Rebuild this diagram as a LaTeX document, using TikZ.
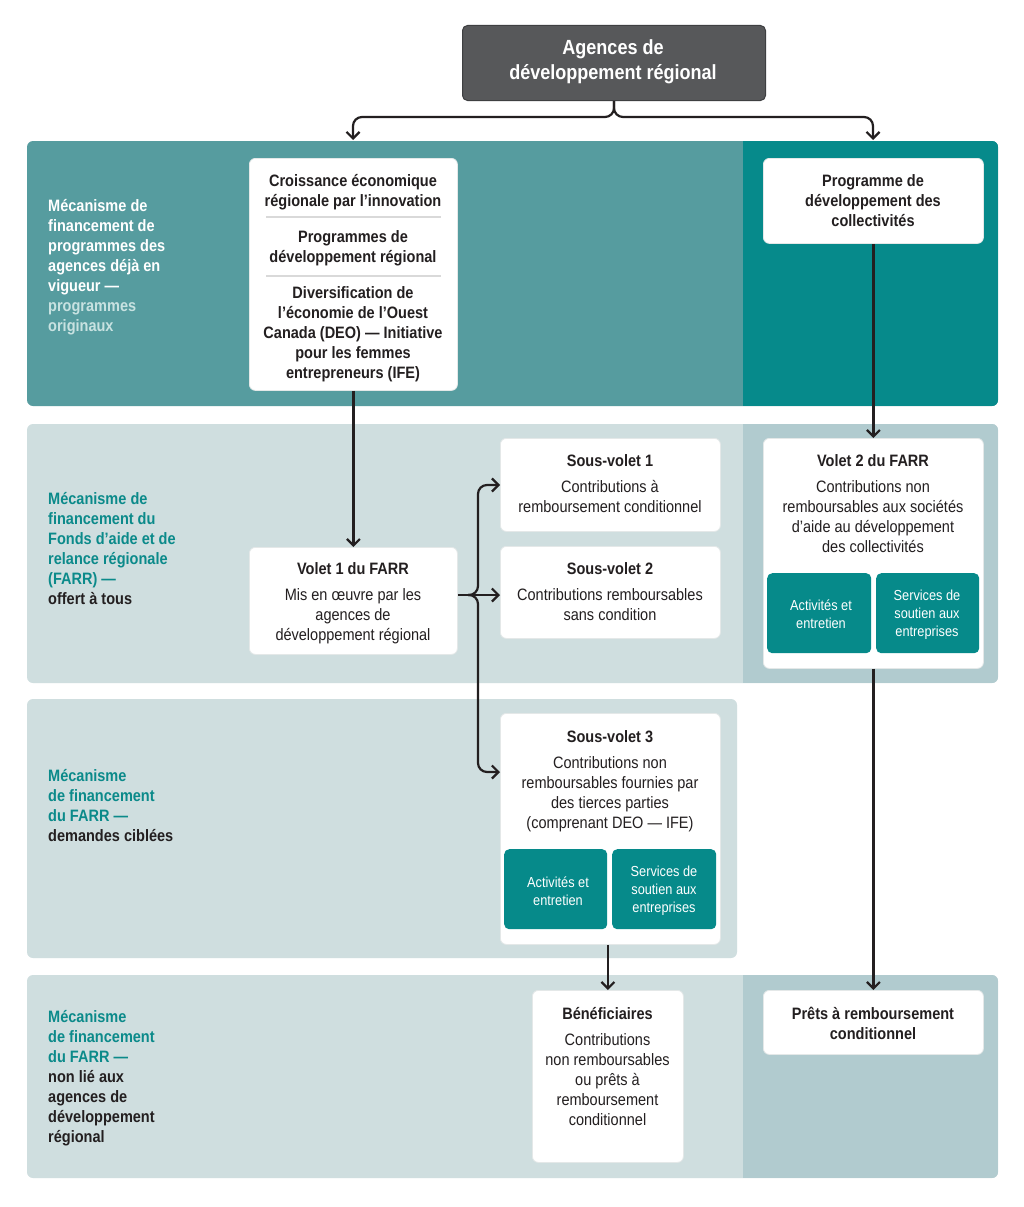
\documentclass[tikz,border=0pt]{standalone}
\usepackage{fontspec}
\setmainfont{Liberation Sans}[FakeStretch=0.88]
\usetikzlibrary{arrows.meta,calc}
\definecolor{titlefill}{HTML}{57585A}
\definecolor{titleedge}{HTML}{3E3F41}
\definecolor{bandA}{HTML}{569C9F}
\definecolor{bandB}{HTML}{068A8B}
\definecolor{bandL}{HTML}{CFDEDF}
\definecolor{bandR}{HTML}{B1CBCF}
\definecolor{tealtext}{HTML}{0B8A8A}
\definecolor{teal box}{HTML}{068A8A}
\definecolor{darktext}{HTML}{231F20}
\definecolor{paletext}{HTML}{C8E2E1}
\definecolor{sepline}{HTML}{D9D9D9}
\definecolor{boxedge}{HTML}{E4E8E8}
\newcommand{\ctab}[1]{\begin{tabular}[t]{@{}c@{}}#1\end{tabular}}
\newcommand{\ltab}[1]{\begin{tabular}[t]{@{}l@{}}#1\end{tabular}}
\begin{document}
\begin{tikzpicture}[x=1pt,y=-1pt,
  wbox/.style={draw=boxedge, line width=0.8pt, fill=white, rounded corners=6pt, inner sep=0pt, anchor=north west},
  tbox/.style={fill=teal box, rounded corners=5pt, inner sep=0pt, anchor=north west},
  txt/.style={inner sep=0pt, anchor=base, text=darktext, font=\fontsize{16.5}{20}\selectfont},
  smalltxt/.style={inner sep=0pt, anchor=base, text=white, font=\fontsize{14.5}{18}\selectfont},
  lefttxt/.style={inner sep=0pt, anchor=base west, font=\bfseries\fontsize{16.5}{20}\selectfont},
  arr/.style={draw=darktext, line width=2.2pt, -{Straight Barb[length=6.5pt,width=13pt]}},
  plain/.style={draw=darktext, line width=2.2pt}
]
\useasboundingbox (0,0) rectangle (1024,1207);
\fill[white] (0,0) rectangle (1024,1207);

% ---------- bands ----------
\fill[bandA, rounded corners=6pt] (27,141) rectangle (998,406);
\begin{scope}
  \clip[rounded corners=6pt] (27,141) rectangle (998,406);
  \fill[bandB] (743,141) rectangle (998,406);
\end{scope}
\fill[bandL, rounded corners=6pt] (27,424) rectangle (998,683);
\begin{scope}
  \clip[rounded corners=6pt] (27,424) rectangle (998,683);
  \fill[bandR] (743,424) rectangle (998,683);
\end{scope}
\fill[bandL, rounded corners=6pt] (27,699) rectangle (737,958);
\fill[bandL, rounded corners=6pt] (27,975) rectangle (998,1178);
\begin{scope}
  \clip[rounded corners=6pt] (27,975) rectangle (998,1178);
  \fill[bandR] (743,975) rectangle (998,1178);
\end{scope}

% ---------- left labels ----------
\node[lefttxt, text=white] (lab1) at (48,211) {\ltab{Mécanisme de\\financement de\\programmes des\\agences déjà en\\vigueur —\\\textcolor{paletext}{programmes}\\\textcolor{paletext}{originaux}}};
\node[lefttxt, text=tealtext] (lab2) at (48,504) {\ltab{Mécanisme de\\financement du\\Fonds d’aide et de\\relance régionale\\(FARR) —\\\textcolor{darktext}{offert à tous}}};
\node[lefttxt, text=tealtext] (lab3) at (48,781) {\ltab{Mécanisme\\de financement\\du FARR —\\\textcolor{darktext}{demandes ciblées}}};
\node[lefttxt, text=tealtext] (lab4) at (48,1022) {\ltab{Mécanisme\\de financement\\du FARR —\\\textcolor{darktext}{non lié aux}\\\textcolor{darktext}{agences de}\\\textcolor{darktext}{développement}\\\textcolor{darktext}{régional}}};

% ---------- title ----------
\node[draw=titleedge, line width=1pt, fill=titlefill, rounded corners=5pt, inner sep=0pt, anchor=north west,
      minimum width=303pt, minimum height=75pt] (title) at (462,25) {};
\node[inner sep=0pt, anchor=base, text=white, font=\bfseries\fontsize{20.5}{25}\selectfont] at (613,55) {\ctab{Agences de\\développement régional}};

% ---------- boxes ----------
\node[wbox, minimum width=208pt, minimum height=232pt] (b1) at (249,158) {};
\draw[sepline, line width=1.5pt] (266,217) -- (441,217);
\draw[sepline, line width=1.5pt] (266,276) -- (441,276);
\node[txt, font=\bfseries\fontsize{16.5}{20}\selectfont] at (353,186) {\ctab{Croissance économique\\régionale par l’innovation}};
\node[txt, font=\bfseries\fontsize{16.5}{20}\selectfont] at (353,242) {\ctab{Programmes de\\développement régional}};
\node[txt, font=\bfseries\fontsize{16.5}{20}\selectfont] at (353,298) {\ctab{Diversification de\\l’économie de l’Ouest\\Canada (DEO) — Initiative\\pour les femmes\\entrepreneurs (IFE)}};

\node[wbox, minimum width=220pt, minimum height=85pt] (pdc) at (763,158) {};
\node[txt, font=\bfseries\fontsize{16.5}{20}\selectfont] at (873,186) {\ctab{Programme de\\développement des\\collectivités}};

\node[wbox, minimum width=208pt, minimum height=107pt] (v1) at (249,547) {};
\node[txt] at (353,574) {\ctab{\textbf{Volet 1 du FARR}\\[6pt]Mis en œuvre par les\\agences de\\développement régional}};

\node[wbox, minimum width=220pt, minimum height=93pt] (sv1) at (500,438) {};
\node[txt] at (610,466) {\ctab{\textbf{Sous-volet 1}\\[6pt]Contributions à\\remboursement conditionnel}};

\node[wbox, minimum width=220pt, minimum height=92pt] (sv2) at (500,546) {};
\node[txt] at (610,574) {\ctab{\textbf{Sous-volet 2}\\[6pt]Contributions remboursables\\sans condition}};

\node[wbox, minimum width=220pt, minimum height=230pt] (v2) at (763,438) {};
\node[txt] at (873,466) {\ctab{\textbf{Volet 2 du FARR}\\[6pt]Contributions non\\remboursables aux sociétés\\d’aide au développement\\des collectivités}};
\node[tbox, minimum width=104pt, minimum height=80pt] (v2a) at (767,573) {};
\node[tbox, minimum width=103pt, minimum height=80pt] (v2b) at (876,573) {};
\node[smalltxt] at (821,610) {\ctab{Activités et\\entretien}};
\node[smalltxt] at (927,600) {\ctab{Services de\\soutien aux\\entreprises}};

\node[wbox, minimum width=220pt, minimum height=231pt] (sv3) at (500,713) {};
\node[txt] at (610,742) {\ctab{\textbf{Sous-volet 3}\\[6pt]Contributions non\\remboursables fournies par\\des tierces parties\\(comprenant DEO — IFE)}};
\node[tbox, minimum width=103pt, minimum height=80pt] (sv3a) at (504,849) {};
\node[tbox, minimum width=104pt, minimum height=80pt] (sv3b) at (612,849) {};
\node[smalltxt] at (558,887) {\ctab{Activités et\\entretien}};
\node[smalltxt] at (664,876) {\ctab{Services de\\soutien aux\\entreprises}};

\node[wbox, minimum width=151pt, minimum height=172pt] (ben) at (532,990) {};
\node[txt] at (607.5,1019) {\ctab{\textbf{Bénéficiaires}\\[6pt]Contributions\\non remboursables\\ou prêts à\\remboursement\\conditionnel}};

\node[wbox, minimum width=220pt, minimum height=64pt] (prets) at (763,990) {};
\node[txt, font=\bfseries\fontsize{16.5}{20}\selectfont] at (873,1019) {\ctab{Prêts à remboursement\\conditionnel}};

% ---------- connectors ----------
\coordinate (ta) at (353,140);
\coordinate (tb) at (873,140);
\draw[arr, rounded corners=9pt] (title.south) |- (ta |- 0,117) -- (ta);
\draw[arr, rounded corners=9pt] (title.south) |- (tb |- 0,117) -- (tb);

\draw[arr] (b1.south) -- (v1.north);
\draw[arr] (pdc.south) -- (v2.north);

\coordinate (jn) at (478,595);
\draw[plain] (v1.east |- jn) -- (jn);
\draw[arr] (jn) -- (sv2.west |- jn);
\draw[arr, rounded corners=9pt] (468,595) -| (478,485) -- (sv1.west |- 0,485);
\draw[arr, rounded corners=9pt] (468,595) -| (478,772) -- (sv3.west |- 0,772);

\draw[arr] (ben.north |- sv3.south) -- (ben.north);
\draw[arr] (v2.south) -- (prets.north);
\end{tikzpicture}
\end{document}
